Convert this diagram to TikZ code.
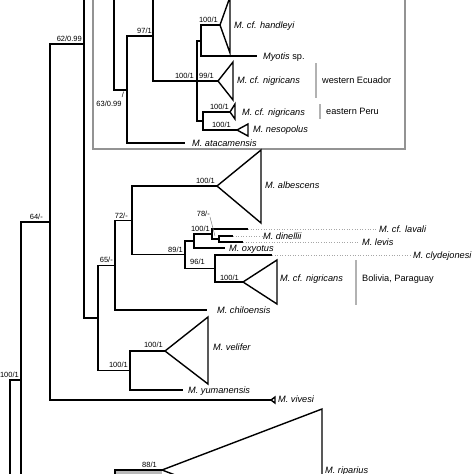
\documentclass[tikz,border=0pt]{standalone}
\usepackage{fontspec}
\setmainfont{Liberation Sans}
\begin{document}
\begin{tikzpicture}[x=1pt,y=-1pt,
  br/.style={line width=1.4pt, line join=miter},
  tri/.style={line width=1.4pt, line join=miter},
  taxon/.style={font=\fontsize{9.2}{10}\selectfont\itshape, inner sep=0pt, anchor=west, text height=6.6pt, text depth=0pt},
  loc/.style={font=\fontsize{9.2}{10}\selectfont, inner sep=0pt, anchor=west, text height=6.6pt, text depth=0pt},
  supl/.style={font=\fontsize{7.5}{8}\selectfont, inner sep=0pt, anchor=south east, text depth=0pt},
  dots/.style={draw=gray!70, line width=0.6pt, dotted},
  gbar/.style={draw=gray!60, line width=2.6pt},
  frame/.style={draw=gray!85, line width=1.5pt},
  lead/.style={draw=gray, line width=0.5pt}]
\useasboundingbox (0,0) rectangle (474,474);
\clip (0,0) rectangle (474,474);

% clade frame
\draw[frame] (93,-10) rectangle (405,149);

% coordinates
\coordinate (t10) at (10,490);
\coordinate (n21) at (21,380);
\coordinate (t21) at (21,490);
\coordinate (n50) at (50,222);
\coordinate (n84) at (84,44);
\coordinate (t84) at (84,-10);
\coordinate (t114) at (114,-10);
\coordinate (n127) at (127,90);
\coordinate (n153) at (153,36);
\coordinate (t153) at (153,-10);
\coordinate (n197) at (197,81);
\coordinate (n201) at (201,41);
\coordinate (n203) at (203,121);
\coordinate (aHand) at (220,25);
\coordinate (tMyo) at (257,56);
\coordinate (aWEc) at (218,81);
\coordinate (aEPe) at (230,112);
\coordinate (aNes) at (237,130);
\coordinate (tAta) at (185,143);
\coordinate (n98) at (98,318);
\coordinate (n115) at (115,265.5);
\coordinate (n132) at (132,220.5);
\coordinate (aAlb) at (217,186);
\coordinate (n185) at (185,254.5);
\coordinate (n194) at (194,241);
\coordinate (n212) at (212,234);
\coordinate (n219) at (219,239);
\coordinate (tLav) at (248,229);
\coordinate (tDin) at (233,236);
\coordinate (tLev) at (243,242);
\coordinate (tOxy) at (225,248);
\coordinate (n215) at (215,268.5);
\coordinate (tCly) at (272,255);
\coordinate (aBol) at (243,282);
\coordinate (tChi) at (207,310);
\coordinate (n130) at (130,370.5);
\coordinate (aVel) at (165,351);
\coordinate (tYum) at (183,390);
\coordinate (aViv) at (271,400);
\coordinate (t115b) at (115,490);
\coordinate (aRip) at (162,470);
\coordinate (lead78) at (215,236);

% gray box at bottom
\fill[gray!55] (115,470) rectangle (162,480);

% branches
\draw[br] (t10) |- (n21);
\draw[br] (n21) |- (n50);
\draw[br] (n21) -- (t21);
\draw[br] (n50) |- (n84);
\draw[br] (n50) |- (aViv);
\draw[br] (n84) -- (t84);
\draw[br] (n84) |- (n98);
\draw[br] (t114) |- (n127);
\draw[br] (n127) |- (n153);
\draw[br] (n127) |- (tAta);
\draw[br] (n153) -- (t153);
\draw[br] (n153) |- (n197);
\draw[br] (n197) |- (n201);
\draw[br] (n197) -- (aWEc);
\draw[br] (n197) |- (n203);
\draw[br] (n201) |- (aHand);
\draw[br] (n201) |- (tMyo);
\draw[br] (n203) |- (aEPe);
\draw[br] (n203) |- (aNes);
\draw[br] (n98) |- (n115);
\draw[br] (n98) |- (n130);
\draw[br] (n115) |- (n132);
\draw[br] (n115) |- (tChi);
\draw[br] (n132) |- (aAlb);
\draw[br] (n132) |- (n185);
\draw[br] (n185) |- (n194);
\draw[br] (n185) |- (n215);
\draw[br] (n194) |- (n212);
\draw[br] (n194) |- (tOxy);
\draw[br] (n212) |- (tLav);
\draw[br] (n212) |- (n219);
\draw[br] (n219) |- (tDin);
\draw[br] (n219) |- (tLev);
\draw[br] (n215) |- (tCly);
\draw[br] (n215) |- (aBol);
\draw[br] (n130) |- (aVel);
\draw[br] (n130) |- (tYum);
\draw[br] (t115b) |- (aRip);

% collapsed clades
\draw[tri] (aHand) -- (230,-3) -- (230,53) -- cycle;
\draw[tri] (aWEc) -- (233,62) -- (233,100) -- cycle;
\draw[tri] (aEPe) -- (235,104) -- (235,119) -- cycle;
\draw[tri] (aNes) -- (248,124) -- (248,136) -- cycle;
\draw[tri] (aAlb) -- (261,150) -- (261,223) -- cycle;
\draw[tri] (aBol) -- (277,260) -- (277,304) -- cycle;
\draw[tri] (aVel) -- (208,317) -- (208,384) -- cycle;
\draw[tri] (aViv) -- (275,397) -- (275,403) -- cycle;
\draw[tri] (aRip) -- (322,409) -- (322,531) -- cycle;

% taxon labels
\node[taxon] (lHand) at (234,25) {M. cf. handleyi};
\node[taxon] (lMyo) at (263,56) {Myotis {\upshape sp.}};
\node[taxon] (lWEc) at (237,80) {M. cf. nigricans};
\node[taxon] (lEPe) at (242,112) {M. cf. nigricans};
\node[taxon] (lNes) at (253,129.5) {M. nesopolus};
\node[taxon] (lAta) at (192,143) {M. atacamensis};
\node[taxon] (lAlb) at (265,185) {M. albescens};
\node[taxon] (lLav) at (379,229) {M. cf. lavali};
\node[taxon] (lDin) at (263,236) {M. dinellii};
\node[taxon] (lLev) at (362,242) {M. levis};
\node[taxon] (lOxy) at (229,248) {M. oxyotus};
\node[taxon] (lCly) at (413,255) {M. clydejonesi};
\node[taxon] (lBol) at (280,278) {M. cf. nigricans};
\node[taxon] (lChi) at (217,310) {M. chiloensis};
\node[taxon] (lVel) at (213,347) {M. velifer};
\node[taxon] (lYum) at (188,390) {M. yumanensis};
\node[taxon] (lViv) at (278,399.5) {M. vivesi};
\node[taxon] (lRip) at (325,470) {M. riparius};

% dotted extensions
\draw[dots] (tLav) -- ([xshift=-2pt]lLav.west);
\draw[dots] (tDin) -- ([xshift=-1pt]lDin.west);
\draw[dots] (tLev) -- ([xshift=-3pt]lLev.west);
\draw[dots] (tCly) -- ([xshift=-1pt]lCly.west);

% region labels with bars
\node[loc] (rW) at (322,80) {western Ecuador};
\node[loc] (rE) at (326,111.5) {eastern Peru};
\node[loc] (rB) at (362,278) {Bolivia, Paraguay};
\draw[gbar] ([xshift=-6pt]rW.west |- 0,63) -- ([xshift=-6pt]rW.west |- 0,98);
\draw[gbar] ([xshift=-6pt]rE.west |- 0,104) -- ([xshift=-6pt]rE.west |- 0,119);
\draw[gbar] ([xshift=-6pt]rB.west |- 0,260) -- ([xshift=-6pt]rB.west |- 0,305);

% support values
\node[supl] (s1) at (82,42) {62/0.99};
\node[supl] (s2) at (152,34) {97/1};
\node[supl] (s3) at (194,79) {100/1};
\node[supl] (s4) at (214,79) {99/1};
\node[supl] (s5) at (218,23) {100/1};
\node[supl] (s6) at (229,110) {100/1};
\node[supl] (s7) at (231,128) {100/1};
\node[supl] (s8) at (43,220) {64/-};
\node[supl] (s9) at (128,219) {72/-};
\node[supl] (s10) at (113,263) {65/-};
\node[supl] (s11) at (215,184) {100/1};
\node[supl] (s12) at (183,253) {89/1};
\node[supl] (s13) at (210,232) {100/1};
\node[supl] (s14) at (210,217) {78/-};
\node[supl] (s15) at (205,265) {96/1};
\node[supl] (s16) at (239,280.5) {100/1};
\node[supl] (s17) at (128,368) {100/1};
\node[supl] (s18) at (163,348) {100/1};
\node[supl] (s19) at (19,378) {100/1};
\node[supl] (s20) at (157,468) {88/1};
\node[font=\fontsize{7.5}{8}\selectfont, inner sep=0pt] (s21) at (109,103.5) {63/0.99};
\node[font=\fontsize{7.5}{8}\selectfont, inner sep=0pt] (s21b) at (123,95) {/};
\draw[lead] (s14.south east) -- (lead78);
\end{tikzpicture}
\end{document}
